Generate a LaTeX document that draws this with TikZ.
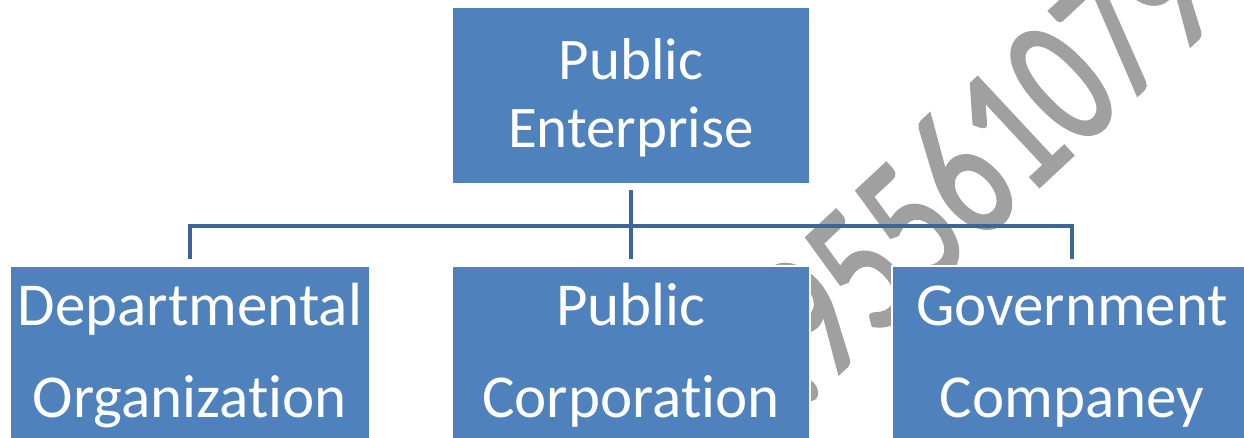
\documentclass[tikz,border=0pt]{standalone}
\usepackage{fontspec}
\setmainfont{Carlito}[Ligatures=NoCommon]
\newfontfamily\stampfont{Carlito}[FakeBold=2]
\usetikzlibrary{calc}
\definecolor{boxblue}{RGB}{79,129,189}
\definecolor{linkblue}{RGB}{62,101,152}
\definecolor{stampgray}{RGB}{160,160,160}
\begin{document}
\begin{tikzpicture}[x=1pt,y=1pt,
  orgbox/.style={rectangle, fill=boxblue, draw=white, line width=2pt,
    minimum width=360pt, minimum height=177pt, inner sep=0pt},
  boxtext/.style={text=white, anchor=base, inner sep=0pt,
    font=\fontsize{61}{61}\selectfont},
  toptext/.style={boxtext, font=\fontsize{59}{59}\selectfont},
  link/.style={draw=linkblue, line width=4.5pt},
  stamp/.style={text=stampgray, inner sep=0pt,
    font=\stampfont\fontsize{188}{188}\selectfont}]
\useasboundingbox (0,0) rectangle (1244,437);
\begin{scope}
\clip (0,0) rectangle (1244,437);
% diagonal watermark, behind everything
\node[stamp, rotate=43, anchor=base west] (wm) at (826,52)
  {\scalebox{0.72}[1]{\llap{.}95561079}};
% boxes
\node[orgbox, minimum width=358pt] (pe) at (631,341.5) {};
\node[orgbox] (dep) at (190,82.5) {};
\node[orgbox, minimum width=358pt] (pc) at (631,82.5) {};
\node[orgbox] (gc) at (1072,82.5) {};
% labels
\node[toptext] (pe-a) at (631,357) {Public};
\node[toptext] (pe-b) at (631,289) {Enterprise};
\node[boxtext] (dep-a) at (190,112) {Departmental};
\node[boxtext] (dep-b) at (190,20) {Organization};
\node[boxtext] (pc-a) at (631,112) {Public};
\node[boxtext] (pc-b) at (631,20) {Corporation};
\node[boxtext] (gc-a) at (1072,112) {Government};
\node[boxtext] (gc-b) at (1072,20) {Companey};
% connectors
\coordinate (bus) at (0,211);
\draw[link] ([yshift=-5pt]pe.south) -- ([yshift=6pt]pc.north);
\draw[link] ([yshift=6pt]dep.north) |- (bus -| gc.north) -- ([yshift=6pt]gc.north);
\end{scope}
\end{tikzpicture}
\end{document}
